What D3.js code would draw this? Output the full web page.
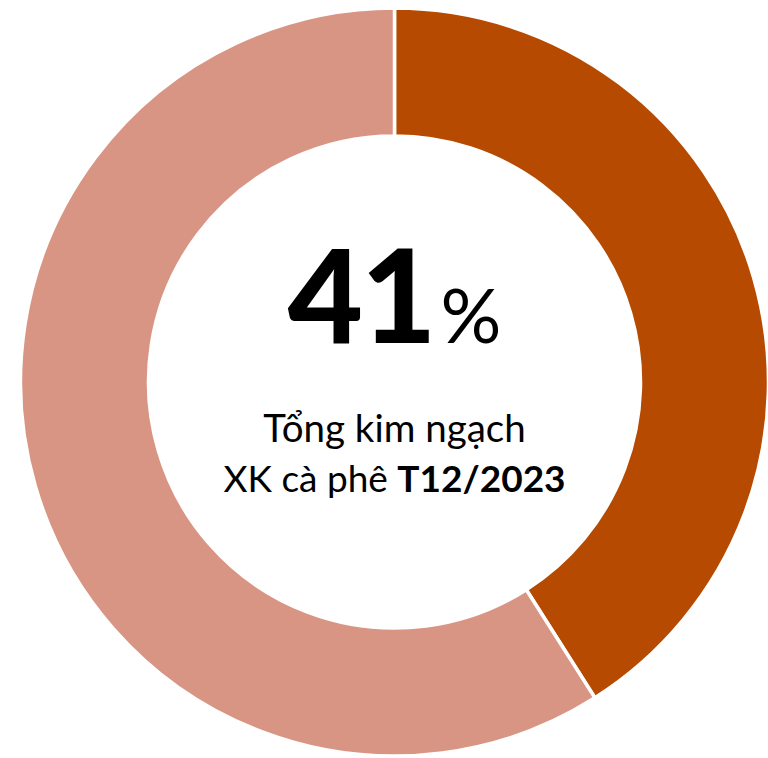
<!DOCTYPE html>
<html>
<head>
<meta charset="utf-8">
<script src="https://cdn.jsdelivr.net/npm/d3@7"></script>
<style>
  body { margin: 0; background: #fff; }
  text { font-family: Lato, "Open Sans", sans-serif; }
</style>
</head>
<body>
<div id="chart"></div>
<script>
var svgWidth = 768;
var svgHeight = 758;

// data
var categories = ["T12/2023", "Còn lại"];
var shares = [41, 59];
var colors = ["#b54a00", "#d99583"];

var centerX = 394.5;
var centerY = 382;
var outerR = 374;
var innerR = 246;

var svg = d3.select("#chart")
    .append("svg")
    .attr("width", svgWidth)
    .attr("height", svgHeight);

var chartGroup = svg.append("g")
    .attr("transform", `translate(${centerX}, ${centerY})`);

var pie = d3.pie().sort(null).value(d => d);
var arc = d3.arc().innerRadius(innerR).outerRadius(outerR);

chartGroup.selectAll("path")
    .data(pie(shares))
    .enter()
    .append("path")
    .attr("d", arc)
    .attr("fill", (d, i) => colors[i])
    .attr("stroke", "#fff")
    .attr("stroke-width", 3.5);

// center label
var big = chartGroup.append("text")
    .attr("x", 0)
    .attr("y", -39)
    .attr("text-anchor", "middle")
    .attr("fill", "#000");
big.append("tspan")
    .attr("font-size", 130)
    .attr("font-weight", 900)
    .attr("letter-spacing", -2)
    .text(shares[0]);
big.append("tspan")
    .attr("font-size", 76)
    .attr("font-weight", 400)
    .attr("dx", 6)
    .text("%");

chartGroup.append("text")
    .attr("x", 0)
    .attr("y", 60)
    .attr("text-anchor", "middle")
    .attr("font-size", 38.5)
    .attr("fill", "#000")
    .text("Tổng kim ngạch");

var line2 = chartGroup.append("text")
    .attr("x", 0)
    .attr("y", 110)
    .attr("text-anchor", "middle")
    .attr("font-size", 37)
    .attr("fill", "#000");
line2.append("tspan").text("XK cà phê ");
line2.append("tspan").attr("font-weight", 700).text(categories[0]);
</script>
</body>
</html>
